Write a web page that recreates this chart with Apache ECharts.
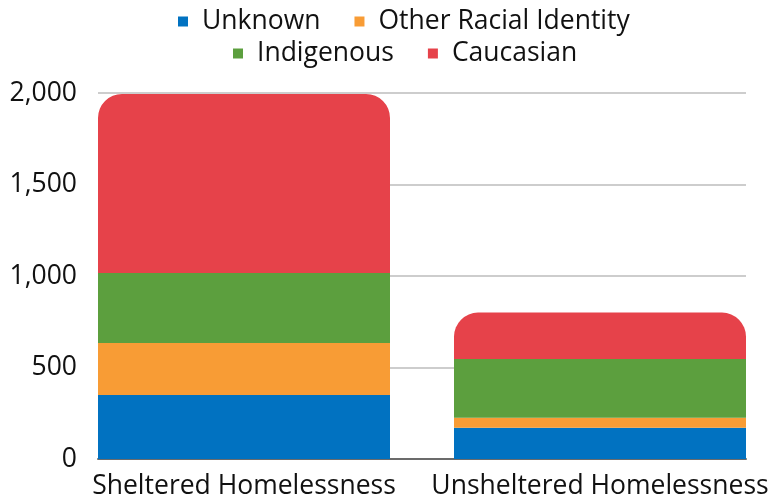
<!DOCTYPE html>
<html>
<head>
<meta charset="utf-8">
<script src="https://cdn.jsdelivr.net/npm/echarts@6/dist/echarts.min.js"></script>
<style>
  html, body { margin: 0; padding: 0; background: #fff; }
  #chart { width: 770px; height: 502px; }
</style>
</head>
<body>
<div id="chart"></div>
<script>
const categories = ['Sheltered Homelessness', 'Unsheltered Homelessness'];
const unknown = [350, 171];
const otherRacial = [284, 55];
const indigenous = [382, 320];
const caucasian = [979, 254];
const yTicks = [0, 500, 1000, 1500, 2000];

const FONT = '"Open Sans", "Noto Sans", sans-serif';
const FONT_SIZE = 26.5;
const colors = {
  unknown: '#0172c1',
  other: '#f89c35',
  indigenous: '#5c9f3e',
  caucasian: '#e6424a'
};

const chart = echarts.init(document.getElementById('chart'), null, { renderer: 'canvas' });

const legendText = { fontFamily: FONT, fontSize: FONT_SIZE, color: '#111', padding: [0, 0, 0, 9] };

const option = {
  animation: false,
  legend: [
    {
      data: ['Unknown', 'Other Racial Identity'],
      left: 173, top: 3,
      itemWidth: 10, itemHeight: 10, itemGap: 34,
      icon: 'rect',
      textStyle: legendText
    },
    {
      data: ['Indigenous', 'Caucasian'],
      left: 228, top: 35,
      itemWidth: 10, itemHeight: 10, itemGap: 34,
      icon: 'rect',
      textStyle: legendText
    }
  ],
  grid: [
    // value scale with gridlines
    { left: 98, width: 648, top: 93, bottom: 43 },
    // bars, flush with the gridline ends
    { left: 66, width: 712, top: 93, bottom: 43, outerBoundsMode: 'none' }
  ],
  xAxis: [
    {
      gridIndex: 0, type: 'category', data: categories,
      axisLine: { show: true, lineStyle: { color: '#6b6b6b', width: 2 } },
      axisTick: { show: false }, axisLabel: { show: false }, splitLine: { show: false }
    },
    {
      gridIndex: 1, type: 'category', data: categories,
      axisLine: { show: false }, axisTick: { show: false },
      axisLabel: { fontFamily: FONT, fontSize: FONT_SIZE, color: '#111', margin: 14, interval: 0, hideOverlap: false }
    }
  ],
  yAxis: [
    {
      gridIndex: 0, type: 'value', min: yTicks[0], max: yTicks[yTicks.length - 1], interval: 500,
      axisLine: { show: false }, axisTick: { show: false },
      axisLabel: {
        fontFamily: FONT, fontSize: FONT_SIZE, color: '#111', margin: 21,
        formatter: v => v.toLocaleString('en-US')
      },
      splitLine: { lineStyle: { color: '#bdbdbd', width: 1.5 } }
    },
    {
      gridIndex: 1, type: 'value', min: yTicks[0], max: yTicks[yTicks.length - 1], interval: 500,
      show: false, splitLine: { show: false }
    }
  ],
  series: [
    { name: 'Unknown', data: unknown, color: colors.unknown },
    { name: 'Other Racial Identity', data: otherRacial, color: colors.other },
    { name: 'Indigenous', data: indigenous, color: colors.indigenous },
    { name: 'Caucasian', data: caucasian, color: colors.caucasian,
      itemStyle: { borderRadius: [24, 24, 0, 0] } }
  ].map(s => Object.assign({
    type: 'bar', stack: 'total', xAxisIndex: 1, yAxisIndex: 1,
    barWidth: 292
  }, s, { itemStyle: Object.assign({ color: s.color }, s.itemStyle || {}) }))
};

chart.setOption(option);
</script>
</body>
</html>
